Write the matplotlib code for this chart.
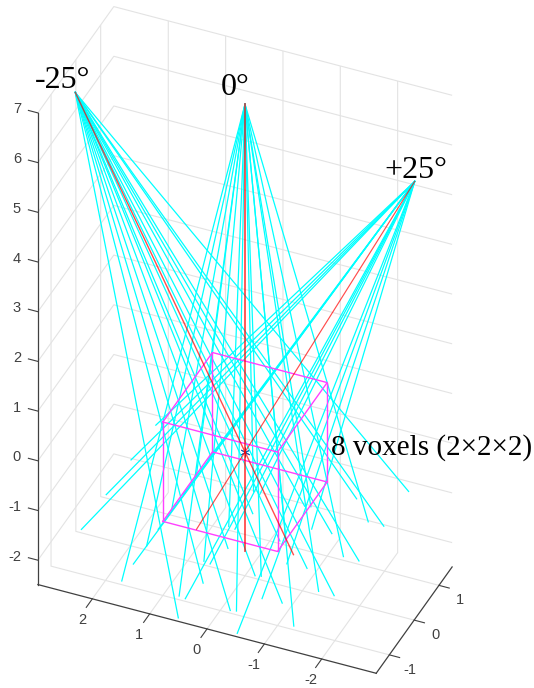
import matplotlib
matplotlib.use('Agg')
import matplotlib.pyplot as plt
from mpl_toolkits.mplot3d import proj3d

plt.rcParams['axes.unicode_minus'] = False
plt.rcParams['font.family'] = 'Liberation Sans'
plt.rcParams['grid.color'] = '#e3e3e3'
plt.rcParams['grid.linewidth'] = 0.8

# source and detector geometry for the three views
view_names = ['-25°', '0°', '+25°']
source_x = [2.96, 0.0, -2.96]
source_z = [6.34, 7.0, 6.34]
det_x = [-0.845, 0.0, 0.845]
det_z = [-1.81, -2.0, -1.81]
det_ux = [0.906, 1.0, 0.906]
det_uz = [-0.423, 0.0, 0.423]

# detector spots
det_u = [-1.5, -0.5, 0.5, 1.5]
det_y = [-1.5, -0.5, 0.5, 1.5]

# voxel block corners
box_x = [1, -1, -1, 1, 1]
box_y = [-1, -1, 1, 1, -1]
box_z = [-1, 1]

x_ticks = [-2, -1, 0, 1, 2]
y_ticks = [-1, 0, 1]
z_ticks = [-2, -1, 0, 1, 2, 3, 4, 5, 6, 7]
x_lim = (2.95, -2.95)  # x runs backwards
y_lim = (-1.53, 1.53)
z_lim = (-2.49, 7)

W, H = 534, 688
fig = plt.figure(figsize=(W / 100, H / 100), dpi=100)
ax = fig.add_axes([-0.144, 0, 1.288, 1], projection='3d', proj_type='ortho')
ax.computed_zorder = False
ax.patch.set_visible(False)
ax.view_init(elev=37.3, azim=-66.6)
ax.set_xlim(x_lim)
ax.set_ylim(y_lim)
ax.set_zlim(z_lim)
aspect = (abs(x_lim[1] - x_lim[0]), y_lim[1] - y_lim[0], z_lim[1] - z_lim[0])
ax.set_box_aspect(aspect, zoom=1.0)

ax.set_xticks(x_ticks)
ax.set_yticks(y_ticks)
ax.set_zticks(z_ticks)
ax.set_xticklabels([])
ax.set_yticklabels([])
ax.set_zticklabels([])
ax.zaxis.set_ticks_position('lower')
ax.zaxis._get_tickdir = lambda position: 0  # z ticks point along x like the grid

tick_in = {ax.xaxis: 1.0, ax.yaxis: 0.38, ax.zaxis: 0.0}
tick_out = {ax.xaxis: 0.0, ax.yaxis: 0.0, ax.zaxis: 0.35}
for axis in (ax.xaxis, ax.yaxis, ax.zaxis):
    axis.pane.set_visible(False)
    axis.line.set_color('#404040')
    axis.line.set_linewidth(0.9)
    axis._axinfo['tick']['inward_factor'] = tick_in[axis]
    axis._axinfo['tick']['outward_factor'] = tick_out[axis]
    axis._axinfo['tick']['linewidth'] = {True: 0.8, False: 0.5}
    axis._axinfo['axisline']['color'] = '#404040'
    axis.set_tick_params(color='#404040')

ax.plot([0], [0], [0], marker=(6, 2, 0), ms=7, mew=0.7, color='#2a5fb0', zorder=2.5)

# rays
for i in range(3):
    for u in det_u:
        for y in det_y:
            ax.plot([source_x[i], det_x[i] + det_ux[i] * u],
                    [0, y],
                    [source_z[i], det_z[i] + det_uz[i] * u],
                    color='#00ffff', lw=0.9, zorder=3)

# voxel block
for z in box_z:
    ax.plot(box_x, box_y, [z] * 5, color='#ff40ff', lw=1.0, zorder=4)
for j in range(4):
    ax.plot([box_x[j]] * 2, [box_y[j]] * 2, box_z, color='#ff40ff', lw=1.0, zorder=4)

for i in range(3):
    ax.plot([source_x[i], det_x[i]], [0, 0], [source_z[i], det_z[i]],
            color='r', lw=[1.0, 1.3, 0.85][i], alpha=0.7, zorder=5)


def screen(x, y, z):
    px, py, _ = proj3d.proj_transform(x, y, z, ax.get_proj())
    return ax.transData.transform((px, py))


# fit the box to the picture: 49.7 px per z unit, origin at (245, 452)
fig.canvas.draw()
scale = 49.7 / abs(screen(0, 0, 1)[1] - screen(0, 0, 0)[1])
ax.set_box_aspect(aspect, zoom=scale)
fig.canvas.draw()
ox, oy = screen(0, 0, 0)
pos = ax.get_position()
ax.set_position([pos.x0 + (245 - ox) / W, pos.y0 + ((H - 452) - oy) / H, pos.width, pos.height])
fig.canvas.draw()


# tick labels sit at a fixed pixel offset from their tick
def tick_label(xyz, dx, dy, text, ha):
    sx, sy = screen(*xyz)
    fig.text((sx + dx) / W, (sy + dy) / H, text, fontsize=10.5, color='#404040',
             ha=ha, va='center')


for t in x_ticks:
    tick_label((t, y_lim[0], z_lim[0]), -10.5, -21.5, str(t), 'center')
for t in y_ticks:
    tick_label((x_lim[1], t, z_lim[0]), 21, -15, str(t), 'center')
for t in z_ticks:
    tick_label((x_lim[0], y_lim[0], t), -17, 3.5, str(t), 'right')

# labels
label_x = [63, 235, 416]
label_y = [88, 95, 178]
for name, lx, ly in zip(view_names, label_x, label_y):
    fig.text(lx / W, 1 - ly / H, name, family='Liberation Serif', fontsize=23,
             ha='center', va='baseline', color='k')
fig.text(331 / W, 1 - 455 / H, '8 voxels (2×2×2)', family='Liberation Serif',
         fontsize=21, ha='left', va='baseline', color='k')

fig.savefig('out.png', dpi=100)
